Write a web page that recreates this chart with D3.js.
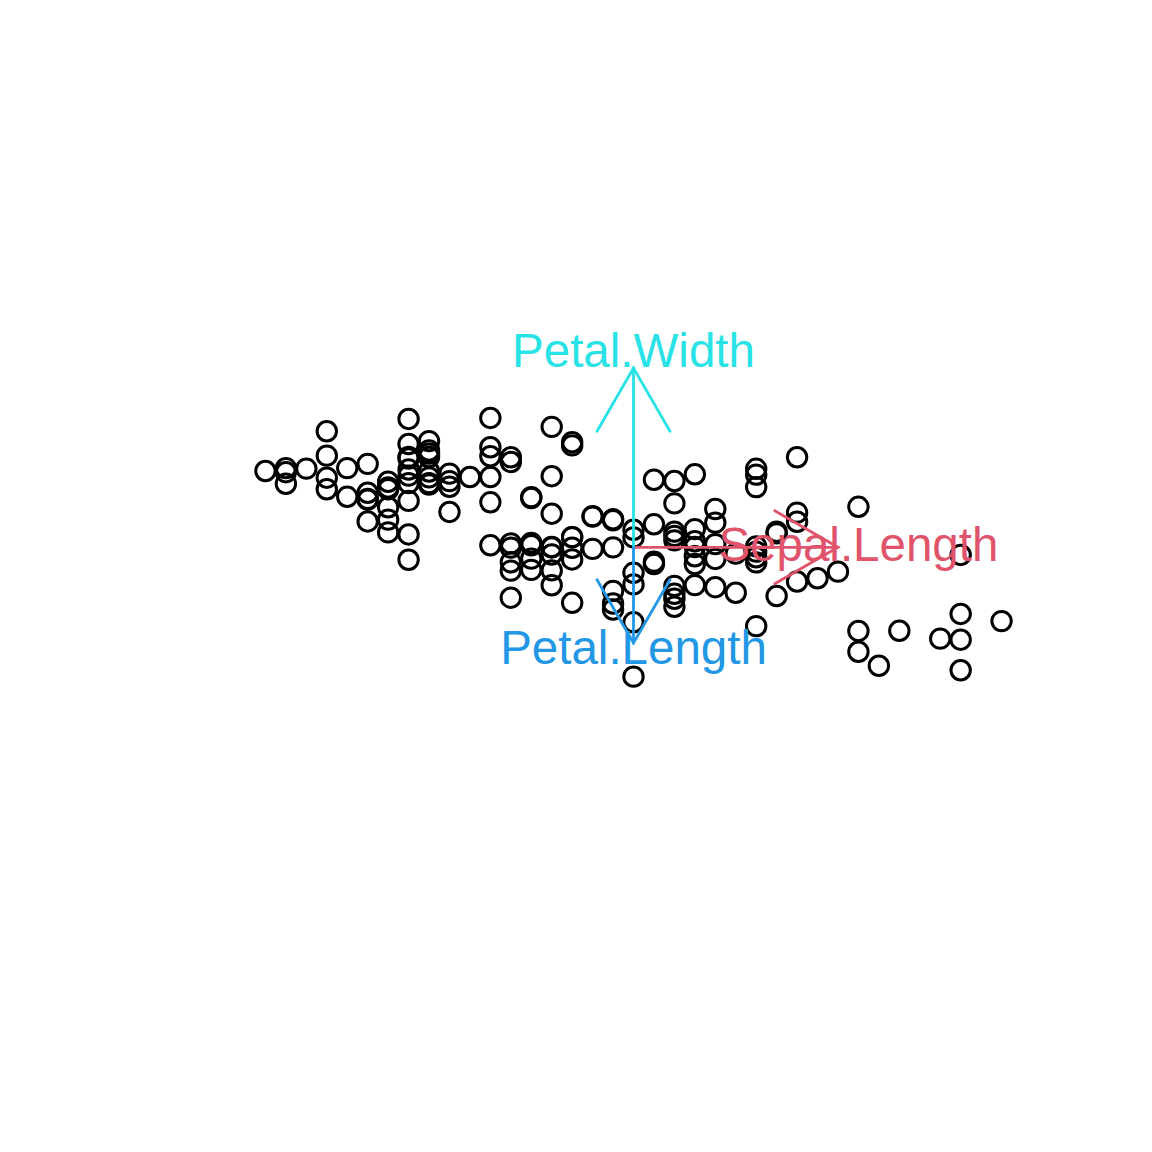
<!DOCTYPE html>
<html>
<head>
<meta charset="utf-8">
<script src="https://cdn.jsdelivr.net/npm/d3@7"></script>
<style>
  html, body { margin: 0; padding: 0; background: #ffffff; }
  svg { display: block; }
</style>
</head>
<body>
<div id="chart"></div>
<script>
// ---- Data: Fisher's iris measurements (150 flowers) ----
const sepalLength = [
  5.1,4.9,4.7,4.6,5.0,5.4,4.6,5.0,4.4,4.9,5.4,4.8,4.8,4.3,5.8,5.7,5.4,5.1,5.7,5.1,
  5.4,5.1,4.6,5.1,4.8,5.0,5.0,5.2,5.2,4.7,4.8,5.4,5.2,5.5,4.9,5.0,5.5,4.9,4.4,5.1,
  5.0,4.5,4.4,5.0,5.1,4.8,5.1,4.6,5.3,5.0,
  7.0,6.4,6.9,5.5,6.5,5.7,6.3,4.9,6.6,5.2,5.0,5.9,6.0,6.1,5.6,6.7,5.6,5.8,6.2,5.6,
  5.9,6.1,6.3,6.1,6.4,6.6,6.8,6.7,6.0,5.7,5.5,5.5,5.8,6.0,5.4,6.0,6.7,6.3,5.6,5.5,
  5.5,6.1,5.8,5.0,5.6,5.7,5.7,6.2,5.1,5.7,
  6.3,5.8,7.1,6.3,6.5,7.6,4.9,7.3,6.7,7.2,6.5,6.4,6.8,5.7,5.8,6.4,6.5,7.7,7.7,6.0,
  6.9,5.6,7.7,6.3,6.7,7.2,6.2,6.1,6.4,7.2,7.4,7.9,6.4,6.3,6.1,7.7,6.3,6.4,6.0,6.9,
  6.7,6.9,5.8,6.8,6.7,6.7,6.3,6.5,6.2,5.9
];
const sepalWidth = [
  3.5,3.0,3.2,3.1,3.6,3.9,3.4,3.4,2.9,3.1,3.7,3.4,3.0,3.0,4.0,4.4,3.9,3.5,3.8,3.8,
  3.4,3.7,3.6,3.3,3.4,3.0,3.4,3.5,3.4,3.2,3.1,3.4,4.1,4.2,3.1,3.2,3.5,3.6,3.0,3.4,
  3.5,2.3,3.2,3.5,3.8,3.0,3.8,3.2,3.7,3.3,
  3.2,3.2,3.1,2.3,2.8,2.8,3.3,2.4,2.9,2.7,2.0,3.0,2.2,2.9,2.9,3.1,3.0,2.7,2.2,2.5,
  3.2,2.8,2.5,2.8,2.9,3.0,2.8,3.0,2.9,2.6,2.4,2.4,2.7,2.7,3.0,3.4,3.1,2.3,3.0,2.5,
  2.6,3.0,2.6,2.3,2.7,3.0,2.9,2.9,2.5,2.8,
  3.3,2.7,3.0,2.9,3.0,3.0,2.5,2.9,2.5,3.6,3.2,2.7,3.0,2.5,2.8,3.2,3.0,3.8,2.6,2.2,
  3.2,2.8,2.8,2.7,3.3,3.2,2.8,3.0,2.8,3.0,2.8,3.8,2.8,2.8,2.6,3.0,3.4,3.1,3.0,3.1,
  3.1,3.1,2.7,3.2,3.3,3.0,2.5,3.0,3.4,3.0
];
const petalLength = [
  1.4,1.4,1.3,1.5,1.4,1.7,1.4,1.5,1.4,1.5,1.5,1.6,1.4,1.1,1.2,1.5,1.3,1.4,1.7,1.5,
  1.7,1.5,1.0,1.7,1.9,1.6,1.6,1.5,1.4,1.6,1.6,1.5,1.5,1.4,1.5,1.2,1.3,1.4,1.3,1.5,
  1.3,1.3,1.3,1.6,1.9,1.4,1.6,1.4,1.5,1.4,
  4.7,4.5,4.9,4.0,4.6,4.5,4.7,3.3,4.6,3.9,3.5,4.2,4.0,4.7,3.6,4.4,4.5,4.1,4.5,3.9,
  4.8,4.0,4.9,4.7,4.3,4.4,4.8,5.0,4.5,3.5,3.8,3.7,3.9,5.1,4.5,4.5,4.7,4.4,4.1,4.0,
  4.4,4.6,4.0,3.3,4.2,4.2,4.2,4.3,3.0,4.1,
  6.0,5.1,5.9,5.6,5.8,6.6,4.5,6.3,5.8,6.1,5.1,5.3,5.5,5.0,5.1,5.3,5.5,6.7,6.9,5.0,
  5.7,4.9,6.7,4.9,5.7,6.0,4.8,4.9,5.6,5.8,6.1,6.4,5.6,5.1,5.6,6.1,5.6,5.5,4.8,5.4,
  5.6,5.1,5.1,5.9,5.7,5.2,5.0,5.2,5.4,5.1
];
const petalWidth = [
  0.2,0.2,0.2,0.2,0.2,0.4,0.3,0.2,0.2,0.1,0.2,0.2,0.1,0.1,0.2,0.4,0.4,0.3,0.3,0.3,
  0.2,0.4,0.2,0.5,0.2,0.2,0.4,0.2,0.2,0.2,0.2,0.4,0.1,0.2,0.2,0.2,0.2,0.1,0.2,0.2,
  0.3,0.3,0.2,0.6,0.4,0.3,0.2,0.2,0.2,0.2,
  1.4,1.5,1.5,1.3,1.5,1.3,1.6,1.0,1.3,1.4,1.0,1.5,1.0,1.4,1.3,1.4,1.5,1.0,1.5,1.1,
  1.8,1.3,1.5,1.2,1.3,1.4,1.4,1.7,1.5,1.0,1.1,1.0,1.2,1.6,1.5,1.6,1.5,1.3,1.3,1.3,
  1.2,1.4,1.2,1.0,1.3,1.2,1.3,1.3,1.1,1.3,
  2.5,1.9,2.1,1.8,2.2,2.1,1.7,1.8,1.8,2.5,2.0,1.9,2.1,2.0,2.4,2.3,1.8,2.2,2.3,1.5,
  2.3,2.0,2.0,1.8,2.1,1.8,1.8,1.8,2.1,1.6,1.9,2.0,2.2,1.5,1.4,2.3,2.4,1.8,1.8,2.1,
  2.4,2.3,1.9,2.3,2.5,2.3,1.9,2.0,2.3,1.8
];

// Projection axes shown as arrows (horizontal / vertical loadings)
const varNames  = ["Sepal.Length", "Petal.Width", "Petal.Length"];
const loadX     = [1.00, 0.00, 0.00];
const loadY     = [0.00, 0.877, -0.468];
const varColors = ["#DF536B", "#28E2E5", "#2297E6"];
// small vertical contribution of Sepal.Width (no arrow drawn)
const sepalWidthLoadY = 0.10;

// ---- Layout ----
const W = 1152, H = 1152;
const plotLeft = 236, plotRight = 1031;   // plot region horizontally
const centerY = 547.3;                      // vertical centre of plot region

const svg = d3.select("#chart").append("svg")
  .attr("width", W).attr("height", H)
  .attr("viewBox", `0 0 ${W} ${H}`);
svg.append("rect").attr("width", W).attr("height", H).attr("fill", "#ffffff");

// projected coordinates
const pts = sepalLength.map((sl, i) => ({
  px: sl,
  py: sepalWidthLoadY * sepalWidth[i] + loadY[1] * petalWidth[i] + loadY[2] * petalLength[i]
}));

const xExt = d3.extent(pts, d => d.px);
const yExt = d3.extent(pts, d => d.py);
const xPad = (xExt[1] - xExt[0]) * 0.04;
const x = d3.scaleLinear()
  .domain([xExt[0] - xPad, xExt[1] + xPad])
  .range([plotLeft, plotRight]);
const pxPerUnit = (plotRight - plotLeft) / (x.domain()[1] - x.domain()[0]);
const yMid = (yExt[0] + yExt[1]) / 2;
const y = d3.scaleLinear()
  .domain([yMid - 1, yMid + 1])
  .range([centerY + pxPerUnit, centerY - pxPerUnit]);

const xMid = (xExt[0] + xExt[1]) / 2;

// ---- Points ----
svg.append("g")
  .selectAll("circle")
  .data(pts)
  .join("circle")
  .attr("cx", d => x(d.px))
  .attr("cy", d => y(d.py))
  .attr("r", 9.7)
  .attr("fill", "none")
  .attr("stroke", "#000000")
  .attr("stroke-width", 3);

// ---- Arrows ----
const headLen = 73, headAng = Math.PI / 6;
const ag = svg.append("g");
varNames.forEach((name, i) => {
  const x0 = x(xMid), y0 = y(yMid);
  const x1 = x(xMid + loadX[i]), y1 = y(yMid + loadY[i]);
  const ang = Math.atan2(y1 - y0, x1 - x0);
  const g = ag.append("g").attr("stroke", varColors[i]).attr("stroke-width", 2.8)
    .attr("fill", "none").attr("stroke-linecap", "round");
  g.append("line").attr("x1", x0).attr("y1", y0).attr("x2", x1).attr("y2", y1);
  g.append("path").attr("d",
    `M${x1 - headLen * Math.cos(ang - headAng)},${y1 - headLen * Math.sin(ang - headAng)}` +
    `L${x1},${y1}` +
    `L${x1 - headLen * Math.cos(ang + headAng)},${y1 - headLen * Math.sin(ang + headAng)}`);
});

// ---- Labels ----
const fs = 47.5;
const labelKx = 1.1, labelKy = 1.079;
varNames.forEach((name, i) => {
  svg.append("text")
    .attr("x", x(xMid + labelKx * loadX[i]))
    .attr("y", y(yMid + labelKy * loadY[i]) + 0.278 * fs)
    .attr("text-anchor", "middle")
    .attr("font-family", "'Liberation Sans', Arial, Helvetica, sans-serif")
    .attr("font-size", fs)
    .attr("fill", varColors[i])
    .text(name);
});
</script>
</body>
</html>
